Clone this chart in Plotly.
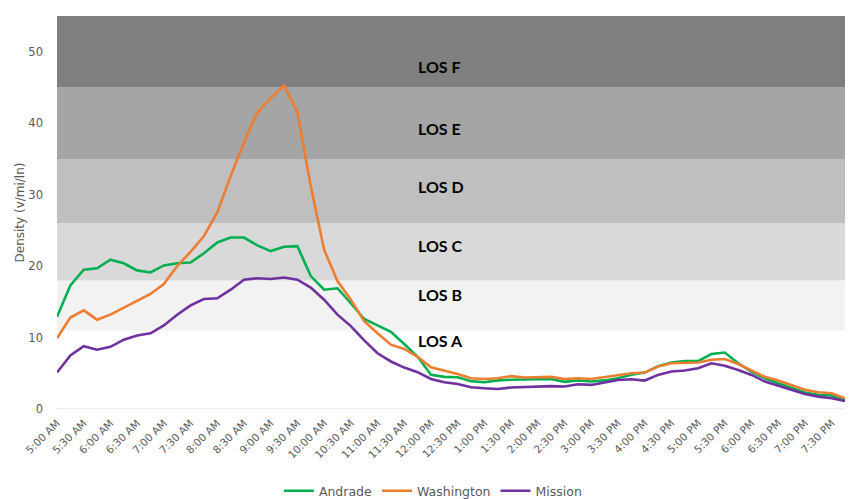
import plotly.graph_objects as go

# 15-minute periods from 5:00 AM to 7:45 PM
times = []
for h in range(5, 20):
    for m in (0, 15, 30, 45):
        hh = h if h <= 12 else h - 12
        ap = "AM" if h < 12 else "PM"
        times.append(f"{hh}:{m:02d} {ap}")

andrade = [12.9, 17.3, 19.5, 19.7, 20.9, 20.4, 19.4, 19.1, 20.1, 20.4,
           20.5, 21.8, 23.3, 24.0, 24.0, 22.9, 22.1, 22.7, 22.8, 18.6,
           16.7, 16.9, 14.8, 12.6, 11.7, 10.8, 9.1, 7.3, 4.8, 4.5,
           4.45, 3.9, 3.75, 4.0, 4.1, 4.1, 4.2, 4.2, 3.8, 4.0,
           3.85, 4.0, 4.3, 4.8, 5.1, 6.0, 6.5, 6.7, 6.7, 7.7,
           7.9, 6.4, 5.2, 4.3, 3.6, 2.9, 2.3, 2.0, 1.9, 1.2]

washington = [9.9, 12.8, 13.8, 12.5, 13.2, 14.2, 15.1, 16.1, 17.5, 20.0,
              22.0, 24.2, 27.5, 32.6, 37.3, 41.5, 43.5, 45.3, 41.5, 31.2,
              22.3, 17.9, 15.3, 12.3, 10.6, 9.0, 8.4, 7.3, 5.85, 5.4,
              4.9, 4.3, 4.2, 4.3, 4.6, 4.4, 4.5, 4.5, 4.2, 4.3,
              4.2, 4.45, 4.7, 5.0, 5.1, 5.95, 6.4, 6.5, 6.5, 6.9,
              7.0, 6.3, 5.4, 4.5, 4.0, 3.3, 2.7, 2.35, 2.2, 1.5]

mission = [5.1, 7.5, 8.8, 8.3, 8.7, 9.7, 10.3, 10.6, 11.7, 13.2,
           14.5, 15.4, 15.5, 16.7, 18.1, 18.3, 18.2, 18.4, 18.1, 17.0,
           15.3, 13.2, 11.6, 9.6, 7.8, 6.65, 5.8, 5.15, 4.2, 3.75,
           3.5, 3.05, 2.9, 2.8, 3.0, 3.05, 3.2, 3.2, 3.15, 3.46,
           3.37, 3.7, 4.07, 4.17, 3.98, 4.77, 5.24, 5.38, 5.7, 6.4,
           6.04, 5.47, 4.77, 3.84, 3.23, 2.67, 2.1, 1.73, 1.5, 1.12]

los_labels = ["LOS A", "LOS B", "LOS C", "LOS D", "LOS E", "LOS F"]
los_bounds = [0, 11, 18, 26, 35, 45, 55]
los_label_y = [9.55, 16.0, 22.9, 31.2, 39.3, 48.0]
los_colors = ["#ffffff", "#f2f2f2", "#d9d9d9", "#bfbfbf", "#a5a5a5", "#7f7f7f"]

y_ticks = [0, 10, 20, 30, 40, 50]

series = [("Andrade", andrade, "#00b050"),
          ("Washington", washington, "#ed7d31"),
          ("Mission", mission, "#7030a0")]

idx = list(range(len(times)))

fig = go.Figure()
for name, vals, col in series:
    fig.add_trace(go.Scatter(x=idx, y=vals, name=name, mode="lines",
                             line=dict(color=col, width=2.6),
                             customdata=times,
                             hovertemplate="%{customdata}: %{y}<extra>" + name + "</extra>"))

shapes = []
for i in range(len(los_labels)):
    shapes.append(dict(type="rect", xref="paper", yref="y", x0=0, x1=1,
                       y0=los_bounds[i], y1=los_bounds[i + 1],
                       fillcolor=los_colors[i], line=dict(width=0), layer="below"))
shapes.append(dict(type="line", xref="paper", yref="y", x0=0, x1=1, y0=0, y1=0,
                   line=dict(color="#d9d9d9", width=1), layer="below"))

annotations = []
for lab, ly in zip(los_labels, los_label_y):
    annotations.append(dict(text=lab, xref="paper", yref="y", x=0.456, y=ly,
                            xanchor="left", yanchor="middle", showarrow=False,
                            font=dict(family="Lato", size=16, color="#000000", weight="bold")))

fig.update_layout(
    width=845, height=491,
    margin=dict(l=49, r=8, t=8, b=90, autoexpand=False),
    paper_bgcolor="#ffffff", plot_bgcolor="#ffffff",
    shapes=shapes, annotations=annotations,
    showlegend=True,
    legend=dict(orientation="h", x=0.477, xanchor="center", y=-0.209, yanchor="middle",
                font=dict(family="DejaVu Sans", size=12.5, color="#595959"),
                itemwidth=30, tracegroupgap=0),
    font=dict(family="DejaVu Sans", color="#595959"),
)
fig.update_xaxes(range=[0, len(times) - 1], tickmode="array",
                 tickvals=idx[::2], ticktext=times[::2], tickangle=-45,
                 showgrid=False, zeroline=False, showline=False, ticks="",
                 automargin=False, ticklabelstandoff=5,
                 tickfont=dict(family="DejaVu Sans", size=10.5, color="#595959"))
fig.update_yaxes(range=[0, 55], tickvals=y_ticks, showgrid=False, zeroline=False,
                 showline=False, ticks="", ticklabelstandoff=13, automargin=False,
                 tickfont=dict(family="DejaVu Sans", size=11.5, color="#595959"),
                 title=dict(text="Density (v/mi/ln)", standoff=1,
                            font=dict(family="DejaVu Sans", size=12, color="#595959")))

fig.write_html("out.html")
